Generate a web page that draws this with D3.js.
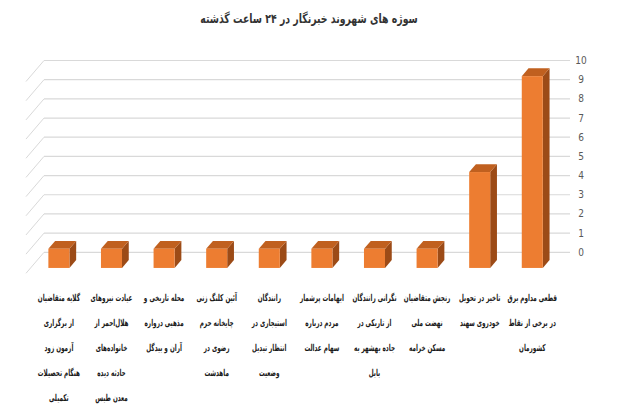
<!DOCTYPE html>
<html><head><meta charset="utf-8">
<script src="https://cdn.jsdelivr.net/npm/d3@7"></script>
<style>body{margin:0;background:#fff}svg{display:block}</style>
</head><body>
<svg id="c" width="620" height="420"></svg>
<script>
const title = "سوژه های شهروند خبرنگار در ۲۴ ساعت گذشته";
const categories = [
  "گلایه متقاضیان\nاز برگزاری\nآزمون زود\nهنگام تحصیلات\nتکمیلی",
  "عیادت نیروهای\nهلال‌احمر از\nخانواده‌های\nحادثه دیده\nمعدن طبس",
  "محله تاریخی و\nمذهبی دروازه\nآران و بیدگل",
  "آئین کلنگ زنی\nچایخانه حرم\nرضوی در\nماهدشت",
  "رانندگان\nاستیجاری در\nانتظار تبدیل\nوضعیت",
  "ابهامات پرشمار\nمردم درباره\nسهام عدالت",
  "نگرانی رانندگان\nاز تاریکی در\nجاده بهشهر به\nبابل",
  "رنجش متقاضیان\nنهضت ملی\nمسکن خرامه",
  "تاخیر در تحویل\nخودروی سهند",
  "قطعی مداوم برق\nدر برخی از نقاط\nکشورمان"
];
const values = [1, 1, 1, 1, 1, 1, 1, 1, 5, 10];
const yTicks = [0, 1, 2, 3, 4, 5, 6, 7, 8, 9, 10];

const svg = d3.select("#c");
const wallL = 44, wallR = 570;
const y = d3.scaleLinear().domain([0, 10]).range([252.3, 60.5]);
const x = d3.scaleBand().domain(d3.range(categories.length)).range([wallL + 2, wallR + 2]).padding(0);
const depthX = -18, depthY = 21;      // full floor depth offset
const fF = 0.745, fB = 0.37;          // bar front / back depth fractions
const bw = x.bandwidth() * 0.4;

// title
svg.append("g").attr("transform", "translate(309,23) scale(0.72,1)")
  .append("text").attr("text-anchor", "middle")
  .attr("font-family", "DejaVu Sans").attr("font-weight", "bold").attr("font-size", 13)
  .attr("fill", "#333").attr("direction", "rtl").text(title);

// gridlines on back wall + side wall diagonals
const g = svg.append("g");
g.selectAll("line.h").data(yTicks).join("line").attr("class", "h")
  .attr("x1", wallL).attr("x2", wallR).attr("y1", d => y(d)).attr("y2", d => y(d))
  .attr("stroke", "#d9d9d9").attr("stroke-width", 1.2);
g.selectAll("line.d").data(yTicks).join("line").attr("class", "d")
  .attr("x1", wallL).attr("y1", d => y(d)).attr("x2", wallL + depthX).attr("y2", d => y(d) + depthY)
  .attr("stroke", "#d9d9d9").attr("stroke-width", 1);

// y axis labels (right)
svg.append("g").selectAll("text").data(yTicks).join("text")
  .attr("x", 581).attr("y", d => y(d) + 3.5).attr("text-anchor", "middle")
  .attr("font-family", "Liberation Sans Narrow, DejaVu Sans Condensed, sans-serif").attr("font-size", 10)
  .attr("fill", "#595959").text(d => d);

// bars (3D)
const bars = svg.append("g").selectAll("g").data(values).join("g");
const fx = (i) => x(i) + (x.bandwidth() - bw) / 2 + depthX * fF;
const ddx = depthX * (fB - fF), ddy = depthY * (fB - fF);
bars.append("path").attr("fill", "#9c4b17")
  .attr("d", (d, i) => {
    const x0 = fx(i) + bw, t = y(d) + depthY * fF, b = y(0) + depthY * fF;
    return `M${x0},${t}L${x0 + ddx},${t + ddy}L${x0 + ddx},${b + ddy}L${x0},${b}Z`;
  });
bars.append("path").attr("fill", "#c0601f")
  .attr("d", (d, i) => {
    const x0 = fx(i), t = y(d) + depthY * fF;
    return `M${x0},${t}L${x0 + bw},${t}L${x0 + bw + ddx},${t + ddy}L${x0 + ddx},${t + ddy}Z`;
  });
bars.append("rect").attr("fill", "#ed7d31")
  .attr("x", (d, i) => fx(i)).attr("width", bw)
  .attr("y", d => y(d) + depthY * fF).attr("height", d => y(0) - y(d));

// category labels
const lab = svg.append("g").selectAll("g").data(categories).join("g");
lab.each(function (d, i) {
  const cx = fx(i) + bw / 2;
  d3.select(this).selectAll("g").data(d.split("\n")).join("g")
    .attr("transform", (s, k) => `translate(${cx},${301 + k * 25}) scale(0.6,1)`)
    .append("text")
    .attr("text-anchor", "middle").attr("font-family", "DejaVu Sans").attr("font-size", 9.5)
    .attr("font-weight", "bold").attr("fill", "#1a1a1a").attr("direction", "rtl")
    .text(s => s);
});
</script>
</body></html>
